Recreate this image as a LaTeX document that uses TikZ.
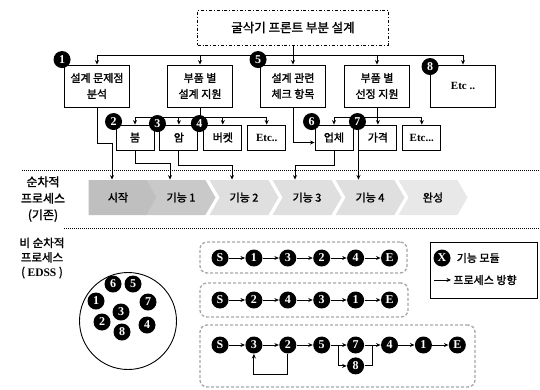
\documentclass[tikz,border=0pt]{standalone}
\usepackage{fontspec}
\setmainfont{Noto Sans CJK KR}[FakeBold=1.6]
\newfontfamily\numfont{Liberation Serif}
\usetikzlibrary{positioning,arrows.meta,shapes.symbols}

\begin{document}
\begin{tikzpicture}[
  x=1pt, y=-1pt, font=\fontsize{11}{14}\selectfont, >={Stealth[length=4.5pt,width=4pt]},
  node distance=5pt and 5pt, line width=0.9pt,
  box/.style={draw, align=center, minimum width=65pt, minimum height=42pt, inner sep=1pt, font=\fontsize{11}{16}\selectfont},
  sub/.style={draw, align=center, minimum width=38pt, minimum height=25pt, inner sep=1pt},
  badge/.style={circle, fill=black, text=white, inner sep=0pt, minimum size=17pt, font=\numfont\bfseries\fontsize{12}{12}\selectfont},
  chev/.style={signal, signal from=west, signal to=east, signal pointer angle=120, fill=#1, minimum width=69pt, minimum height=35pt, inner sep=0pt, font=\fontsize{11}{11}\selectfont},
  chev/.default=gray!25,
  group/.style={draw=gray!70, densely dashed, line width=1.3pt, rounded corners=7pt},
  sep/.style={densely dotted, line width=1pt},
  etc/.style={font=\numfont\bfseries\fontsize{11}{11}\selectfont}]
  \useasboundingbox (0,0) rectangle (540,389);

  % top level
  \node[draw, dash dot, minimum width=191pt, minimum height=35pt, font=\fontsize{12.5}{12.5}\selectfont] (front) at (293,27.5) {굴삭기 프론트 부분 설계};
  \node[box] (analysis) at (97,86) {설계 문제점\\분석};
  \node[box] (partdesign) at (200,86) {부품 별\\설계 지원};
  \node[box] (check) at (293,86) {설계 관련\\체크 항목};
  \node[box] (partselect) at (377,86) {부품 별\\선정 지원};
  \node[box, etc] (etcmain) at (463,86) {Etc ..};

  \draw (front.south) -- ++(0,10) coordinate (hub);
  \draw (analysis.north |- hub) -- (etcmain.north |- hub);
  \foreach \b in {analysis,partdesign,check,partselect,etcmain}
    \draw[->] (\b.north |- hub) -- (\b.north);

  % parts
  \node[sub] (boom) at (135,137.5) {붐};
  \node[sub, right=of boom] (arm) {암};
  \node[sub, right=of arm] (bucket) {버켓};
  \node[sub, right=of bucket, etc] (etcpart) {Etc..};
  \node[sub] (firm) at (334,137.5) {업체};
  \node[sub, right=of firm] (price) {가격};
  \node[sub, right=of price, etc] (etcsel) {Etc...};

  \draw (partdesign.south) -- ++(0,10) coordinate (hubA);
  \draw (boom.north |- hubA) -- (etcpart.north |- hubA);
  \foreach \s in {boom,arm,bucket,etcpart}
    \draw[->] (\s.north |- hubA) -- (\s.north);
  \draw (partselect.south) -- ++(0,10) coordinate (hubB);
  \draw (firm.north |- hubB) -- (etcsel.north |- hubB);
  \foreach \s in {firm,price,etcsel}
    \draw[->] (\s.north |- hubB) -- (\s.north);
  \draw[->] (check.south) |- ([yshift=-5pt]firm.west);

  % sequential process (existing)
  \draw[sep] (22,170) -- (540,170);
  \draw[sep] (64,228) -- (540,228);
  \node[align=center, font=\fontsize{12}{16.5}\selectfont] (seqlab) at (43,199) {순차적\\프로세스\\(기존)};
  \node[chev=gray!50, signal from=nowhere] (ch0) at (118,197.5) {시작};
  \node[chev=gray!42] (ch1) at (181,197.5) {기능 1};
  \node[chev] (ch2) at (244,197.5) {기능 2};
  \node[chev] (ch3) at (307,197.5) {기능 3};
  \node[chev] (ch4) at (370,197.5) {기능 4};
  \node[chev=gray!18] (ch5) at (433,197.5) {완성};

  \draw[->] (analysis.south) -- ++(0,36) -| ([xshift=-6pt]ch0.north);
  \draw[->] (boom.south) -- ++(0,13) -| ([xshift=-11pt]ch1.north);
  \draw[->] (arm.south) -- ++(0,15) -| ([xshift=-12pt]ch2.north);
  \draw[->] (firm.south) -- ++(0,15) -| ([xshift=-12pt]ch3.north);
  \draw[->] (price.south west) -- (price.south west |- ch4.north);

  % badges on the boxes
  \node[badge] (n1) at ([shift={(-2,-5)}]analysis.north west) {1};
  \node[badge] (n5) at ([shift={(-2,-5)}]check.north west) {5};
  \node[badge] (n8) at ([shift={(0,2)}]etcmain.north west) {8};
  \node[badge] (n2) at ([shift={(-2,-3)}]boom.north west) {2};
  \node[badge] (n3) at ([shift={(-2,-1)}]arm.north west) {3};
  \node[badge] (n4) at ([shift={(-4,-1)}]bucket.north west) {4};
  \node[badge] (n6) at ([shift={(-3,-3)}]firm.north west) {6};
  \node[badge] (n7) at ([shift={(-1,-3)}]price.north west) {7};

  % non-sequential process (EDSS)
  \node[align=center, font=\fontsize{11.5}{14.5}\selectfont] (edsslab) at (42,258) {비 순차적\\프로세스\\( {\numfont\bfseries EDSS} )};
  \node[draw, circle, minimum size=97pt] (pool) at (128,321) {};
  \foreach \t/\px/\py in {6/113/284, 5/133/284, 1/96/301, 3/121/312, 7/148/302, 2/102/322, 8/122/332, 4/147/325}
    \node[badge] (p\t) at (\px,\py) {\t};

  \node[group, minimum width=207pt, minimum height=31pt] (grpA) at (303.5,257.5) {};
  \node[group, minimum width=208pt, minimum height=34pt] (grpB) at (304,300) {};
  \node[group, minimum width=275pt, minimum height=62pt] (grpC) at (337.5,356) {};

  \node[badge] (ra0) at (220,258) {S};
  \foreach \t [count=\i, remember=\i as \j (initially 0)] in {1,3,2,4,E}
    \node[badge, right=16pt of ra\j] (ra\i) {\t};
  \foreach \i [remember=\i as \j (initially 0)] in {1,...,5}
    \draw[->] (ra\j) -- (ra\i);

  \node[badge] (rb0) at (220,300) {S};
  \foreach \t [count=\i, remember=\i as \j (initially 0)] in {2,4,3,1,E}
    \node[badge, right=16pt of rb\j] (rb\i) {\t};
  \foreach \i [remember=\i as \j (initially 0)] in {1,...,5}
    \draw[->] (rb\j) -- (rb\i);

  \node[badge] (rc0) at (220,345) {S};
  \foreach \t [count=\i, remember=\i as \j (initially 0)] in {3,2,5,7,4,1,E}
    \node[badge, right=16pt of rc\j] (rc\i) {\t};
  \node[badge, below=3pt of rc4] (rc8) {8};
  \foreach \i [remember=\i as \j (initially 0)] in {1,...,7}
    \draw[->] (rc\j) -- (rc\i);
  \draw[->] ([xshift=8pt]rc3.east) |- (rc8);
  \draw (rc8) -| ([xshift=8pt]rc4.east);
  \draw[->] (rc2.south) -- ++(0,20) -| (rc1.south);

  % legend
  \node[draw, minimum width=107pt, minimum height=56pt] (legend) at (483.5,270) {};
  \node[badge] (keyx) at (442,258) {X};
  \node[right=2pt of keyx] (keyxt) {기능 모듈};
  \coordinate (keya) at (434,280);
  \coordinate (keyb) at (451,280);
  \draw[->] (keya) -- (keyb);
  \node[right=1pt of keyb, inner sep=1pt] (keyat) {프로세스 방향};
\end{tikzpicture}
\end{document}
